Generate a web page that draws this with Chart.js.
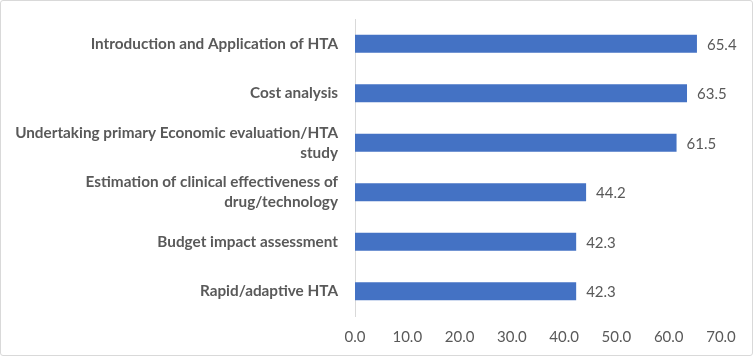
<!DOCTYPE html>
<html><head><meta charset="utf-8">
<script src="https://cdn.jsdelivr.net/npm/chart.js@4"></script>
<style>
html,body{margin:0;padding:0;background:#fff;}
#wrap{position:relative;width:753px;height:356px;box-sizing:border-box;border:1px solid #d9d9d9;border-radius:3px;}
canvas{display:block;}
</style></head>
<body><div id="wrap"><canvas id="c" width="751" height="354"></canvas></div>
<script>
const categories = [
  "Introduction and Application of HTA",
  "Cost analysis",
  ["Undertaking primary Economic evaluation/HTA", "study"],
  ["Estimation of clinical effectiveness of", "drug/technology"],
  "Budget impact assessment",
  "Rapid/adaptive HTA"
];
const values = [65.4, 63.5, 61.5, 44.2, 42.3, 42.3];
const xTicks = [0, 10, 20, 30, 40, 50, 60, 70];

const FONT = "Lato";
const TXT = "#595959";

const dataLabels = {
  id: 'dataLabels',
  afterDatasetsDraw(chart) {
    const ctx = chart.ctx;
    const meta = chart.getDatasetMeta(0);
    ctx.save();
    ctx.font = "15px " + FONT;
    ctx.fillStyle = TXT;
    ctx.textAlign = "left";
    ctx.textBaseline = "middle";
    meta.data.forEach((el, i) => {
      ctx.fillText(values[i].toFixed(1), el.x + 10, el.y + 1);
    });
    ctx.restore();
  }
};

new Chart(document.getElementById('c'), {
  type: 'bar',
  data: {
    labels: categories,
    datasets: [{
      data: values,
      backgroundColor: '#4472C4',
      borderWidth: 0,
      barPercentage: 0.72,
      categoryPercentage: 0.5
    }]
  },
  options: {
    indexAxis: 'y',
    responsive: false,
    animation: false,
    events: [],
    layout: { padding: { top: 18, right: 31, bottom: 0, left: 0 } },
    plugins: { legend: { display: false }, tooltip: { enabled: false } },
    scales: {
      x: {
        min: 0, max: 70,
        afterBuildTicks(scale) { scale.ticks = xTicks.map(v => ({ value: v })); },
        afterFit(scale) { scale.height = 39; scale.paddingLeft = 0; scale.paddingRight = 0; },
        ticks: {
          callback: v => Number(v).toFixed(1),
          color: TXT,
          font: { family: FONT, size: 15 },
          padding: 12,
          maxRotation: 0
        },
        grid: { display: false, drawTicks: false },
        border: { display: false }
      },
      y: {
        afterFit(scale) { scale.width = 354; scale.paddingTop = 0; scale.paddingBottom = 0; },
        ticks: {
          color: TXT,
          font: { family: FONT, size: 15.3, weight: 'bold', lineHeight: 1.3 },
          padding: 17
        },
        grid: { display: false, drawTicks: false },
        border: { display: true, color: '#d9d9d9', width: 1 }
      }
    }
  },
  plugins: [dataLabels]
});
</script></body></html>
